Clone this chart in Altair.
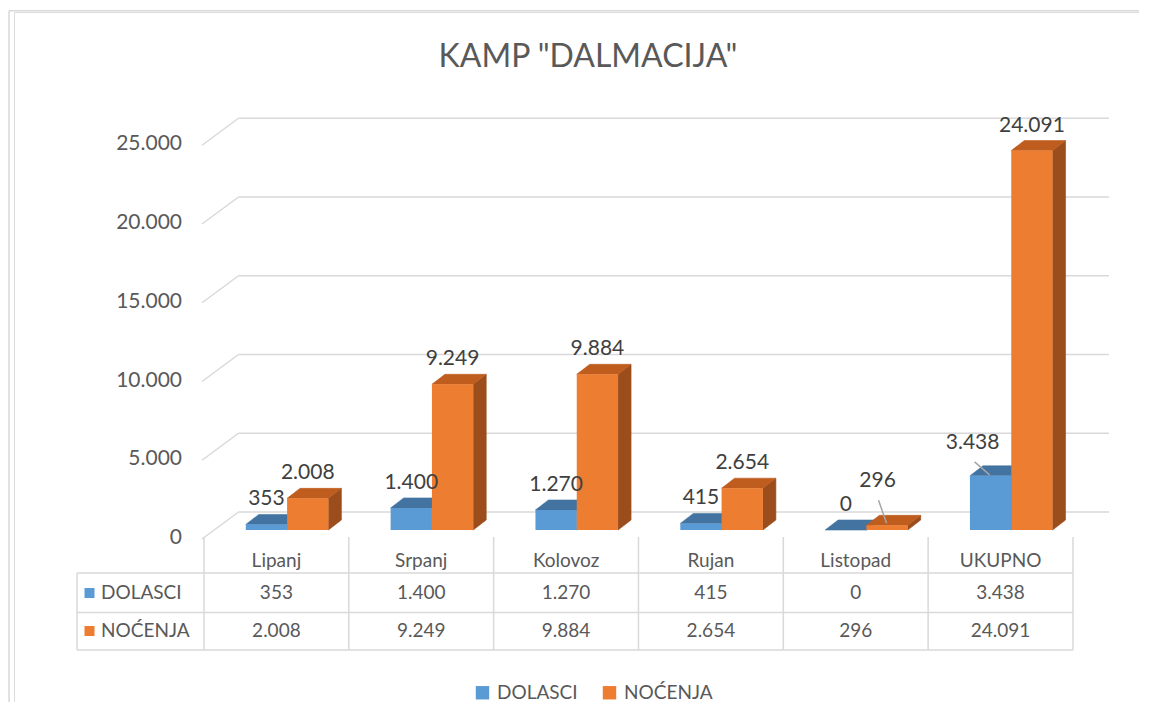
import altair as alt
import pandas as pd

# ---------------- data ----------------
categories = ["Lipanj", "Srpanj", "Kolovoz", "Rujan", "Listopad", "UKUPNO"]
dolasci = [353, 1400, 1270, 415, 0, 3438]
nocenja = [2008, 9249, 9884, 2654, 296, 24091]
series = ["DOLASCI", "NOĆENJA"]
y_ticks = [0, 5000, 10000, 15000, 20000, 25000]
chart_title = 'KAMP "DALMACIJA"'

# ---------------- style ----------------
FRONT = {"DOLASCI": "#5B9BD5", "NOĆENJA": "#ED7D31"}
TOP = {"DOLASCI": "#4373A0", "NOĆENJA": "#BF5D1F"}
SIDE = {"DOLASCI": "#3A6590", "NOĆENJA": "#9B4D1C"}
TEXT = "#595959"
LABEL = "#404040"
GRID = "#D9D9D9"
FONT = "Lato"

# ---------------- layout (page pixels) ----------------
PAD_L, PAD_T = 6, 4
W, H = 1125, 690
OX, OY = 8 + PAD_L, 8 + PAD_T
COL0, COLW = 276.4, 144.83      # first table column centre, column width
BASE_Y, K = 530.0, 0.01575      # bar base line, pixels per unit


def px(x):
    return x - OX


def py(y):
    return y - OY


X0 = COL0 - OX
x_scale = alt.Scale(domain=[-X0 / COLW, (W - X0) / COLW], nice=False, zero=False)
Y0 = BASE_Y - OY
y_scale = alt.Scale(domain=[(Y0 - H) / K, Y0 / K], nice=False, zero=False)

SHIFT = 10.7 / COLW   # pair centre offset from column centre
BW = 41.3 / COLW      # bar width
DX = 13.0 / COLW      # 3D depth (x)
DV = 10.0 / K         # 3D depth (y)


def fmt(v):
    return f"{v:,}".replace(",", ".")


rows, faces = [], []
for i, c in enumerate(categories):
    for s, (name, vals) in enumerate(zip(series, [dolasci, nocenja])):
        v = vals[i]
        x0 = i + SHIFT - BW + s * BW
        x1 = x0 + BW
        rows.append(dict(cat=c, i=i, series=name, v=v, x0=x0, x1=x1,
                         xc=(x0 + x1) / 2, base=0, label=fmt(v)))
        fid = f"{c}-{name}"
        side = [(x1, v, 0), (x1 + DX, v + DV, DV)]
        top = [(x0, v, v), (x0 + DX, v + DV, v), (x1, v + DV, v), (x1 + DX, v + DV, v + DV)]
        for xx, yy, yy2 in side:
            faces.append(dict(fid=fid + "-side", x=xx, y=yy, y2=yy2, col=SIDE[name]))
        for xx, yy, yy2 in top:
            faces.append(dict(fid=fid + "-top", x=xx, y=yy, y2=yy2, col=TOP[name]))

bars = pd.DataFrame(rows)
faces = pd.DataFrame(faces)
ticks = pd.DataFrame({"v": y_ticks, "label": [fmt(v) for v in y_ticks]})
bounds = pd.DataFrame({"b": [i - 0.5 for i in range(len(categories) + 1)]})
cats = pd.DataFrame({"cat": categories, "i": list(range(len(categories)))})
one = pd.DataFrame({"k": [0]})

layers = []

# chart frame
layers.append(alt.Chart(one).mark_rule(color=GRID, strokeWidth=1.5).encode(
    x=alt.value(px(9)), x2=alt.value(W), y=alt.value(py(10.7))))
layers.append(alt.Chart(one).mark_rule(color=GRID, strokeWidth=1.5).encode(
    x=alt.value(px(9)), y=alt.value(py(10.7)), y2=alt.value(H)))

# title
layers.append(alt.Chart(pd.DataFrame({"t": [chart_title]})).mark_text(
    font=FONT, fontSize=32, fontWeight=400, color=TEXT, align="center", baseline="middle").encode(
    x=alt.value(px(588)), y=alt.value(py(57)), text="t:N"))

# back wall gridlines + side wall diagonals
layers.append(alt.Chart(ticks).mark_rule(color=GRID, strokeWidth=1.5, yOffset=-18).encode(
    x=alt.value(px(238.5)), x2=alt.value(px(1109)),
    y=alt.Y("v:Q", scale=y_scale, axis=None)))
layers.append(alt.Chart(ticks).mark_rule(color=GRID, strokeWidth=1.5, yOffset=9, y2Offset=-18).encode(
    x=alt.value(px(202)), x2=alt.value(px(238.5)),
    y=alt.Y("v:Q", scale=y_scale, axis=None), y2="v:Q"))

# value axis labels (positioned by the y scale)
layers.append(alt.Chart(ticks).mark_text(
    font=FONT, fontSize=21, color=TEXT, align="right", baseline="middle", dy=8).encode(
    x=alt.value(px(182)), y=alt.Y("v:Q", scale=y_scale, axis=None), text="label:N"))

# 3D side and top faces
layers.append(alt.Chart(faces).mark_area(opacity=1, strokeWidth=0.6).encode(
    x=alt.X("x:Q", scale=x_scale, axis=None),
    y=alt.Y("y:Q", scale=y_scale, axis=None, stack=None),
    y2="y2:Q",
    detail="fid:N",
    fill=alt.Fill("col:N", scale=None),
    stroke=alt.Stroke("col:N", scale=None)))

# front faces (with legend)
layers.append(alt.Chart(bars).mark_bar(stroke=None).encode(
    x=alt.X("x0:Q", scale=x_scale, axis=None), x2="x1:Q",
    y=alt.Y("v:Q", scale=y_scale, axis=None),
    y2="base:Q",
    color=alt.Color("series:N", scale=alt.Scale(domain=series, range=[FRONT[s] for s in series]),
                    legend=alt.Legend(orient="none", legendX=px(473), legendY=py(683),
                                      direction="horizontal", title=None, symbolType="square",
                                      symbolSize=180, symbolStrokeWidth=0, labelFont=FONT,
                                      labelFontSize=19, labelColor=TEXT, labelOffset=5,
                                      columnPadding=22))))

# data labels
callouts = {("UKUPNO", "DOLASCI"): (-18, -33, (-16, -14, -1, -1)),
            ("Listopad", "NOĆENJA"): (-9.5, -44, (-8.5, -25, -0.5, -2))}
excl = " && ".join(f"!(datum.cat == '{c}' && datum.series == '{s}')" for c, s in callouts)
layers.append(alt.Chart(bars).transform_filter(excl).mark_text(
    font=FONT, fontSize=21, color=LABEL, baseline="middle", align="center", dy=-25).encode(
    x=alt.X("xc:Q", scale=x_scale, axis=None), y=alt.Y("v:Q", scale=y_scale, axis=None),
    text="label:N"))
for (c, s), (dx, dy, (lx1, ly1, lx2, ly2)) in callouts.items():
    sel = bars[(bars.cat == c) & (bars.series == s)]
    layers.append(alt.Chart(sel).mark_text(
        font=FONT, fontSize=21, color=LABEL, baseline="middle", align="center", dx=dx, dy=dy).encode(
        x=alt.X("xc:Q", scale=x_scale, axis=None), y=alt.Y("v:Q", scale=y_scale, axis=None),
        text="label:N"))
    layers.append(alt.Chart(sel).mark_rule(
        color="#A6A6A6", strokeWidth=1.5, xOffset=lx1, yOffset=ly1, x2Offset=lx2, y2Offset=ly2).encode(
        x=alt.X("xc:Q", scale=x_scale, axis=None), x2="xc:Q",
        y=alt.Y("v:Q", scale=y_scale, axis=None), y2="v:Q"))

# data table grid
layers.append(alt.Chart(bounds).mark_rule(color=GRID, strokeWidth=1.5).encode(
    x=alt.X("b:Q", scale=x_scale, axis=None), y=alt.value(py(537)), y2=alt.value(py(650))))
layers.append(alt.Chart(one).mark_rule(color=GRID, strokeWidth=1.5).encode(
    x=alt.value(px(77)), y=alt.value(py(573)), y2=alt.value(py(650))))
for yy in (573, 612.5, 650):
    layers.append(alt.Chart(one).mark_rule(color=GRID, strokeWidth=1.5).encode(
        x=alt.value(px(77)), x2=alt.value(px(1073)), y=alt.value(py(yy))))

# table header (categories)
layers.append(alt.Chart(cats).mark_text(
    font=FONT, fontSize=19, color=TEXT, align="center", baseline="middle").encode(
    x=alt.X("i:Q", scale=x_scale, axis=None), y=alt.value(py(561)), text="cat:N"))

# table rows
ROW_Y = {"DOLASCI": 593, "NOĆENJA": 631}
for s in series:
    layers.append(alt.Chart(bars).transform_filter(f"datum.series == '{s}'").mark_text(
        font=FONT, fontSize=19, color=TEXT, align="center", baseline="middle").encode(
        x=alt.X("i:Q", scale=x_scale, axis=None), y=alt.value(py(ROW_Y[s])), text="label:N"))
    layers.append(alt.Chart(pd.DataFrame({"s": [s]})).mark_point(
        shape="square", size=100, filled=True, opacity=1, color=FRONT[s]).encode(
        x=alt.value(px(89.5)), y=alt.value(py(ROW_Y[s]))))
    layers.append(alt.Chart(pd.DataFrame({"s": [s]})).mark_text(
        font=FONT, fontSize=19, color=TEXT, align="left", baseline="middle").encode(
        x=alt.value(px(101)), y=alt.value(py(ROW_Y[s])), text="s:N"))

chart = alt.layer(*layers).properties(
    width=W, height=H,
    padding={"left": PAD_L, "top": PAD_T, "right": 0, "bottom": 0},
    autosize=alt.AutoSizeParams(type="none"),
    background="white",
).configure_view(strokeWidth=0).configure(font=FONT)

chart.save("out.html", embed_options={"renderer": "svg", "actions": False})
